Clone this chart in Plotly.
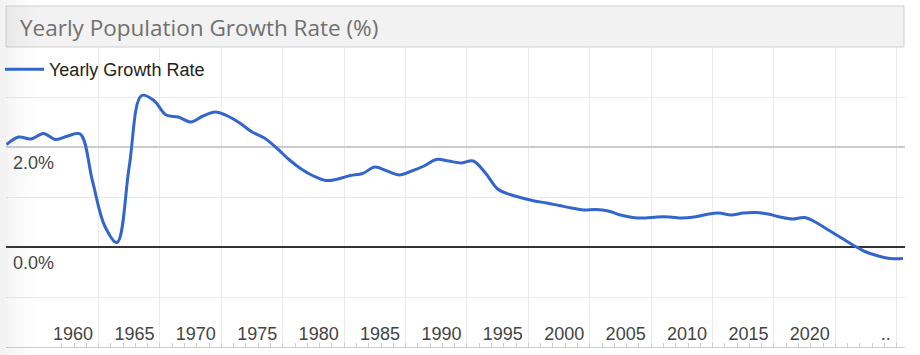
import plotly.graph_objects as go

# ---- data ----
years = list(range(1955, 2029))
growth_rate = [
    2.05, 2.20, 2.16, 2.27, 2.15, 2.22, 2.26, 1.32, 0.42, 0.09,
    1.62, 3.03, 2.93, 2.64, 2.60, 2.50, 2.62, 2.70, 2.62, 2.48,
    2.30, 2.18, 1.98, 1.75, 1.56, 1.42, 1.33, 1.36, 1.43, 1.47,
    1.60, 1.52, 1.44, 1.52, 1.62, 1.75, 1.72, 1.68, 1.72, 1.48,
    1.16, 1.05, 0.98, 0.92, 0.88, 0.83, 0.78, 0.74, 0.75, 0.72,
    0.64, 0.59, 0.58, 0.60, 0.60, 0.58, 0.60, 0.65, 0.68, 0.64,
    0.68, 0.69, 0.66, 0.60, 0.56, 0.59, 0.48, 0.33, 0.18, 0.03,
    -0.10, -0.18, -0.23, -0.23,
]
x_labels = ["1960", "1965", "1970", "1975", "1980", "1985", "1990",
            "1995", "2000", "2005", "2010", "2015", "2020", ".."]
y_tick_vals = [0, 2]
y_tick_text = ["0.0%", "2.0%"]
series_name = "Yearly Growth Rate"
title_text = "Yearly Population Growth Rate (%)"

# ---- layout helpers ----
x_label_pos = [1960.42 + 5 * i for i in range(len(x_labels) - 1)] + [2026.6]
x_grid_pos = [1957.5 + 5 * i for i in range(15)]
x_small_ticks = [1955.5 + i for i in range(73)]
x_range = [1954.96, 2028.17]

W, H = 920, 355
ML, MR, MT, MB = 6, 15, 47, 8
pw = W - ML - MR
ph = H - MT - MB


def px_to_paper_x(px):
    return (px - ML) / pw


def py_to_paper_y(py):
    return (H - MB - py) / ph


fig = go.Figure()
fig.add_trace(go.Scatter(
    x=years, y=growth_rate, mode="lines", name=series_name,
    line=dict(color="#3366cc", width=3, shape="spline", smoothing=1),
))
# invisible helper trace for the small yearly ticks axis
fig.add_trace(go.Scatter(x=[years[0]], y=[growth_rate[0]], xaxis="x2",
                         mode="lines", showlegend=False, hoverinfo="skip",
                         line=dict(width=0)))

tick_font = dict(family="Arial, Liberation Sans, sans-serif", size=18, color="#444444")

fig.update_layout(
    width=W, height=H,
    margin=dict(l=ML, r=MR, t=MT, b=MB, pad=0, autoexpand=False),
    paper_bgcolor="white", plot_bgcolor="white",
    showlegend=True,
    legend=dict(
        x=px_to_paper_x(0), y=py_to_paper_y(51), xanchor="left", yanchor="top",
        font=dict(family="Arial, Liberation Sans, sans-serif", size=18, color="#222222"),
        bgcolor="rgba(0,0,0,0)", itemwidth=39, tracegroupgap=0,
    ),
    xaxis=dict(
        range=x_range, tickmode="array", tickvals=x_label_pos, ticktext=x_labels,
        showgrid=False, ticks="", zeroline=False, automargin=False,
        showline=True, linecolor="#cccccc", linewidth=1,
        tickfont=tick_font, ticklabelposition="inside", ticklabelstandoff=4,
        minor=dict(tickmode="array", tickvals=x_grid_pos, showgrid=True,
                   gridcolor="#ebebeb", gridwidth=1, ticks=""),
    ),
    xaxis2=dict(
        range=x_range, overlaying="x", anchor="y", side="bottom", automargin=False,
        tickmode="array", tickvals=x_small_ticks, ticks="inside", ticklen=4,
        tickcolor="#cccccc", tickwidth=1, showticklabels=False,
        showgrid=False, zeroline=False, showline=False,
    ),
    yaxis=dict(
        range=[-2, 4], tickmode="array", tickvals=y_tick_vals, ticktext=y_tick_text,
        showgrid=True, gridcolor="#cccccc", gridwidth=1.5, automargin=False,
        zeroline=True, zerolinecolor="#333333", zerolinewidth=1.5,
        ticks="", tickfont=tick_font, ticklabelposition="inside",
        ticklabelshift=16, ticklabelstandoff=4, showline=False,
        minor=dict(dtick=1, tick0=0, showgrid=True, gridcolor="#ebebeb",
                   gridwidth=1, ticks=""),
    ),
)

shapes = [
    dict(type="rect", xref="paper", yref="paper",
         x0=px_to_paper_x(6), x1=px_to_paper_x(904),
         y0=py_to_paper_y(47), y1=py_to_paper_y(6),
         fillcolor="#f2f2f2", line=dict(color="#d0d0d0", width=1), layer="above"),
]
# soft grey shade along the left edge
for i in range(10):
    shapes.append(dict(type="rect", xref="paper", yref="paper",
                       x0=px_to_paper_x(i * 4), x1=px_to_paper_x(i * 4 + 4),
                       y0=py_to_paper_y(H), y1=py_to_paper_y(0),
                       fillcolor="#808080", opacity=0.10 * (1 - i / 10) ** 1.5,
                       line=dict(width=0), layer="above"))
fig.update_layout(shapes=shapes)

fig.add_annotation(
    text=title_text, xref="paper", yref="paper",
    x=px_to_paper_x(18), y=py_to_paper_y(27), xanchor="left", yanchor="middle",
    showarrow=False,
    font=dict(family="Open Sans, sans-serif", size=22.5, color="#707070"),
)

fig.write_html("out.html")
